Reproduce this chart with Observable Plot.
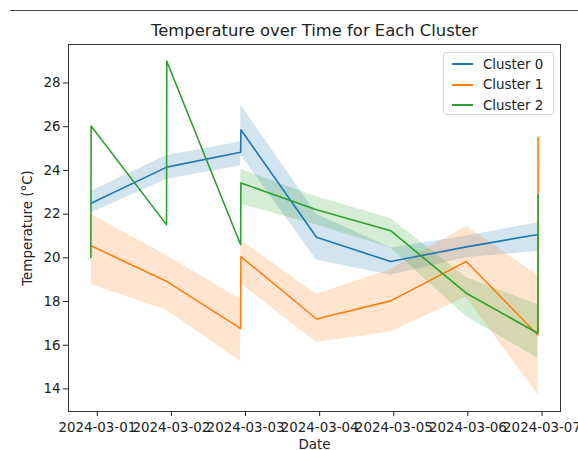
<!DOCTYPE html>
<html>
<head>
<meta charset="utf-8">
<script src="https://cdn.jsdelivr.net/npm/d3@7"></script>
<script src="https://cdn.jsdelivr.net/npm/@observablehq/plot@0.6"></script>
<style>
  html, body { margin: 0; padding: 0; background: #fff; }
  #wrap { position: relative; width: 578px; height: 450px; font-family: "DejaVu Sans", sans-serif; }
  #topline { position: absolute; left: 10px; right: 0; top: 10px; height: 0; border-top: 1.5px solid #444; }
  #legend { position: absolute; left: 443px; top: 52px; width: 111px; height: 63px; border: 1px solid #d6d6d6; border-radius: 3px; background: rgba(255,255,255,0.85); box-sizing: border-box; }
  .row { position: absolute; left: 8px; height: 20px; display: flex; align-items: center; font-size: 13.4px; color: #222; }
  .sw { width: 21px; height: 0; border-top: 2px solid; margin-right: 10px; }
</style>
</head>
<body>
<div id="wrap">
  <div id="topline"></div>
  <div id="chart"></div>
  <div id="legend"></div>
</div>
<script>
const clusters = ["Cluster 0", "Cluster 1", "Cluster 2"];
const colors = ["#1f77b4", "#ff7f0e", "#2ca02c"];
const xTickLabels = ["2024-03-01", "2024-03-02", "2024-03-03", "2024-03-04", "2024-03-05", "2024-03-06", "2024-03-07"];
const yTicks = [14, 16, 18, 20, 22, 24, 26, 28];

// Cluster 0
const c0Time = ["2024-02-29T22:00Z", "2024-03-01T22:30Z", "2024-03-02T22:25Z", "2024-03-02T22:30Z", "2024-03-03T23:00Z", "2024-03-04T23:00Z", "2024-03-05T23:30Z", "2024-03-06T22:45Z"];
const c0Mean = [22.5, 24.15, 24.83, 25.86, 20.94, 19.83, 20.5, 21.07];
const c0Low  = [22.05, 23.6, 24.2, 24.7, 19.9, 19.2, 20.0, 20.3];
const c0High = [23.05, 24.68, 25.3, 27.0, 22.0, 20.45, 21.0, 21.6];

// Cluster 1
const c1Time = ["2024-02-29T22:00Z", "2024-03-01T22:30Z", "2024-03-02T22:25Z", "2024-03-02T22:30Z", "2024-03-03T23:00Z", "2024-03-04T23:00Z", "2024-03-05T23:30Z", "2024-03-06T22:40Z", "2024-03-06T22:45Z"];
const c1Mean = [20.55, 18.92, 16.76, 20.06, 17.2, 18.03, 19.83, 16.47, 25.5];
const c1Low  = [18.78, 17.6, 15.25, 18.8, 16.13, 16.6, 18.2, 13.73, 25.5];
const c1High = [21.99, 20.1, 18.1, 20.8, 18.33, 19.45, 21.44, 19.2, 25.5];

// Cluster 2
const c2Time = ["2024-02-29T21:55Z", "2024-02-29T22:00Z", "2024-03-01T22:25Z", "2024-03-01T22:30Z", "2024-03-02T22:25Z", "2024-03-02T22:30Z", "2024-03-03T23:00Z", "2024-03-04T23:00Z", "2024-03-05T23:30Z", "2024-03-06T22:40Z", "2024-03-06T22:45Z"];
const c2Mean = [20.0, 26.03, 21.52, 29.0, 20.6, 23.43, 22.2, 21.24, 18.38, 16.55, 22.9];
const c2Low  = [20.0, 26.03, 21.52, 29.0, 20.6, 22.45, 21.5, 20.45, 17.3, 15.4, 22.9];
const c2High = [20.0, 26.03, 21.52, 29.0, 20.6, 24.04, 22.8, 21.8, 19.1, 17.85, 22.9];

const series = [
  [c0Time, c0Mean, c0Low, c0High],
  [c1Time, c1Mean, c1Low, c1High],
  [c2Time, c2Mean, c2Low, c2High]
];
const rows = [];
series.forEach(([t, m, lo, hi], i) => {
  t.forEach((d, j) => rows.push({cluster: clusters[i], t: new Date(d), mean: m[j], lo: lo[j], hi: hi[j]}));
});

// matplotlib-like 5% margins
const tExt = d3.extent(rows, d => +d.t);
const tPad = (tExt[1] - tExt[0]) * 0.05;
const xDomain = [new Date(tExt[0] - tPad), new Date(tExt[1] + tPad)];
const yMin = d3.min(rows, d => d.lo), yMax = d3.max(rows, d => d.hi);
const yPad = (yMax - yMin) * 0.05;
const yDomain = [yMin - yPad, yMax + yPad];
const xTicks = xTickLabels.map(s => new Date(s + "T00:00Z"));

const font = "DejaVu Sans, sans-serif";
const chart = Plot.plot({
  width: 578,
  height: 450,
  marginTop: 44,
  marginLeft: 68,
  marginRight: 18,
  marginBottom: 39,
  style: {fontFamily: font, fontSize: "13.4px", color: "#222", background: "white"},
  x: {type: "utc", domain: xDomain},
  y: {domain: yDomain},
  color: {domain: clusters, range: colors},
  marks: [
    Plot.areaY(rows, {x: "t", y1: "lo", y2: "hi", fill: "cluster", z: "cluster", fillOpacity: 0.2, curve: "linear"}),
    Plot.lineY(rows, {x: "t", y: "mean", stroke: "cluster", z: "cluster", strokeWidth: 1.6}),
    Plot.frame({stroke: "#333", strokeWidth: 1}),
    Plot.axisX({ticks: xTicks, tickFormat: d3.utcFormat("%Y-%m-%d"), tickSize: 5, tickPadding: 6, fontSize: 13.4,
      label: "Date", labelAnchor: "center", labelArrow: "none", labelOffset: 37}),
    Plot.axisY({ticks: yTicks, tickSize: 5, tickPadding: 3, fontSize: 13.4,
      label: "Temperature (°C)", labelAnchor: "center", labelArrow: "none", labelOffset: 46}),
    Plot.text(["Temperature over Time for Each Cluster"], {frameAnchor: "top", dy: -14, text: d => d, fontSize: 16.4, lineAnchor: "middle", fill: "#222"})
  ]
});
document.getElementById("chart").appendChild(chart);

const legend = document.getElementById("legend");
clusters.forEach((c, i) => {
  const r = document.createElement("div");
  r.className = "row";
  r.style.top = (1 + i * 20.5) + "px";
  const sw = document.createElement("span");
  sw.className = "sw";
  sw.style.borderTopColor = colors[i];
  const tx = document.createElement("span");
  tx.textContent = c;
  r.appendChild(sw); r.appendChild(tx);
  legend.appendChild(r);
});
</script>
</body>
</html>
